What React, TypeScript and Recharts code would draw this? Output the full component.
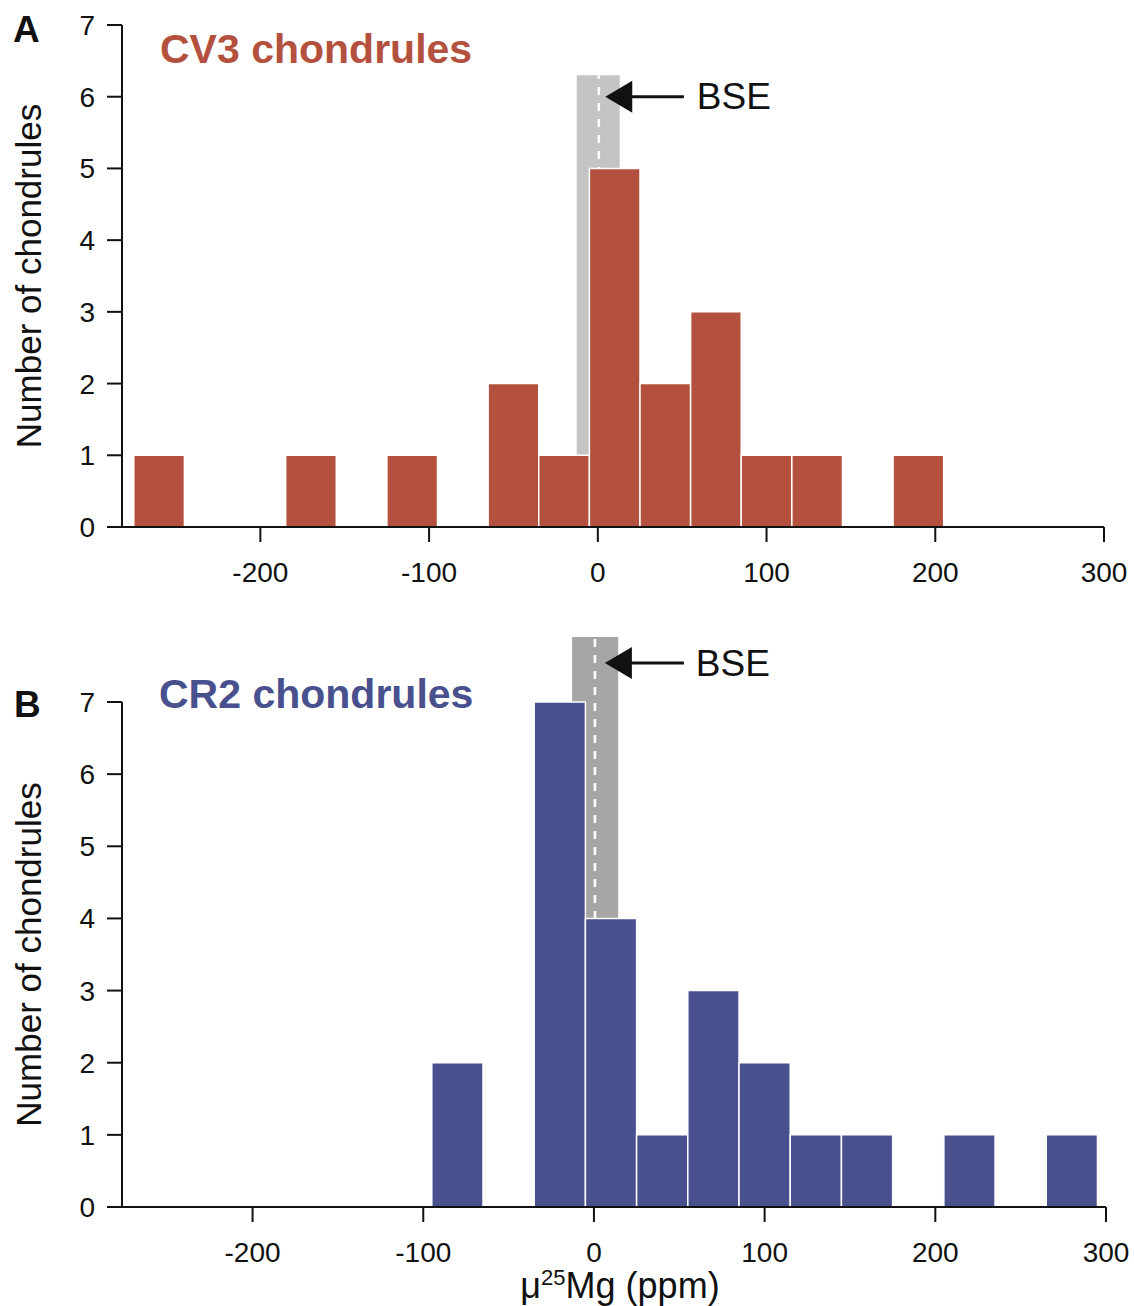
import React from "react";
import {
  ComposedChart,
  XAxis,
  YAxis,
  Scatter,
  ReferenceArea,
  ReferenceLine,
  ReferenceDot,
} from "recharts";

const FONT = '"Liberation Sans", Arial, Helvetica, sans-serif';

const xTicks = [-200, -100, 0, 100, 200, 300];
const yTicks = [0, 1, 2, 3, 4, 5, 6, 7];
const binWidth = 30;

// CV3 chondrules histogram (bin centres, counts)
const cv3Centers = [-260, -170, -110, -50, -20, 10, 40, 70, 100, 130, 190];
const cv3Counts = [1, 1, 1, 2, 1, 5, 2, 3, 1, 1, 1];

// CR2 chondrules histogram
const cr2Centers = [-80, -20, 10, 40, 70, 100, 130, 160, 220, 280];
const cr2Counts = [2, 7, 4, 1, 3, 2, 1, 1, 1, 1];

// BSE band: [low, high], band top, arrow level, arrow tip/tail, label x
const cv3Bse = [-12.5, 13];
const cv3BseTop = 6.3;
const cv3Arrow = { y: 6, tip: 4.4, tail: 51, text: 58.7 };
const cr2Bse = [-12.8, 14.2];
const cr2BseTop = 7.9;
const cr2Arrow = { y: 7.54, tip: 6.4, tail: 52.7, text: 59.7 };

const arrowHead = (p: any) => (
  <polygon
    points={`${p.cx},${p.cy} ${p.cx + 27},${p.cy - 16} ${p.cx + 27},${p.cy + 16}`}
    fill="#111"
  />
);

const bseText = (p: any) => (
  <text
    x={p.cx}
    y={p.cy}
    dominantBaseline="central"
    fontSize={37}
    fontFamily={FONT}
    fill="#111"
  >
    BSE
  </text>
);

const yLabel = (props: any) => {
  const vb = props.viewBox;
  const cx = vb.x + 28;
  const cy = vb.y + vb.height / 2;
  return (
    <text
      x={cx}
      y={cy}
      transform={`rotate(-90 ${cx} ${cy})`}
      textAnchor="middle"
      dominantBaseline="central"
      fontSize={35}
      fontFamily={FONT}
      fill="#111"
    >
      Number of chondrules
    </text>
  );
};

const xLabel = (props: any) => {
  const vb = props.viewBox;
  return (
    <text
      x={vb.x + vb.width / 2 + 6}
      y={vb.y + 91}
      textAnchor="middle"
      fontSize={36}
      fontFamily={FONT}
      fill="#111"
    >
      μ
      <tspan dy={-13} fontSize={22}>25</tspan>
      <tspan dy={13}>Mg (ppm)</tspan>
    </text>
  );
};

interface PanelProps {
  centers: number[];
  counts: number[];
  color: string;
  bandColor: string;
  band: number[];
  bandTop: number;
  arrow: { y: number; tip: number; tail: number; text: number };
  domain: [number, number];
  height: number;
  margin: { top: number; right: number; bottom: number; left: number };
  xAxisHeight: number;
  showXLabel: boolean;
}

function Panel(p: PanelProps) {
  const data = p.centers.map((c, i) => ({ x: c, count: p.counts[i] }));
  const axisStyle = { stroke: "#111", strokeWidth: 2 };
  const tickStyle = { fill: "#111", fontSize: 28, fontFamily: FONT };
  return (
    <ComposedChart width={1134} height={p.height} data={data} margin={p.margin}>
      <XAxis
        type="number"
        dataKey="x"
        domain={p.domain}
        allowDataOverflow
        ticks={xTicks}
        interval={0}
        tickSize={15}
        tickMargin={20}
        height={p.xAxisHeight}
        axisLine={axisStyle}
        tickLine={axisStyle}
        tick={tickStyle}
        label={p.showXLabel ? xLabel : undefined}
      />
      <YAxis
        type="number"
        dataKey="count"
        domain={[0, 7]}
        allowDataOverflow
        ticks={yTicks}
        interval={0}
        tickSize={15}
        tickMargin={12}
        width={122}
        axisLine={axisStyle}
        tickLine={axisStyle}
        tick={tickStyle}
        label={yLabel}
      />
      <ReferenceArea
        x1={p.band[0]}
        x2={p.band[1]}
        y1={0}
        y2={p.bandTop}
        fill={p.bandColor}
        fillOpacity={1}
        stroke="none"
        ifOverflow="visible"
        zIndex={90}
      />
      <ReferenceLine
        segment={[
          { x: 0.6, y: 0 },
          { x: 0.6, y: p.bandTop },
        ]}
        stroke="#fff"
        strokeWidth={2.5}
        strokeDasharray="8 8"
        ifOverflow="visible"
        zIndex={95}
      />
      {data.map((d, i) => (
        <ReferenceArea
          key={i}
          x1={d.x - binWidth / 2}
          x2={d.x + binWidth / 2}
          y1={0}
          y2={d.count}
          fill={p.color}
          fillOpacity={1}
          stroke="#fff"
          strokeWidth={1.5}
          ifOverflow="visible"
          zIndex={100}
        />
      ))}
      <ReferenceLine
        segment={[
          { x: p.arrow.tip + 14, y: p.arrow.y },
          { x: p.arrow.tail, y: p.arrow.y },
        ]}
        stroke="#111"
        strokeWidth={3}
        ifOverflow="visible"
        zIndex={600}
      />
      <ReferenceDot
        x={p.arrow.tip}
        y={p.arrow.y}
        r={1}
        shape={arrowHead}
        ifOverflow="visible"
        zIndex={600}
      />
      <ReferenceDot
        x={p.arrow.text}
        y={p.arrow.y}
        r={1}
        shape={bseText}
        ifOverflow="visible"
        zIndex={600}
      />
      <Scatter dataKey="count" shape={() => <g />} isAnimationActive={false} legendType="none" />
    </ComposedChart>
  );
}

export default function App() {
  return (
    <div style={{ position: "absolute", left: 0, top: 0, width: 1134, height: 1306, background: "#fff" }}>
      <div style={{ position: "absolute", left: 0, top: 0 }}>
        <Panel
          centers={cv3Centers}
          counts={cv3Counts}
          color="#b4513e"
          bandColor="#c4c4c4"
          band={cv3Bse}
          bandTop={cv3BseTop}
          arrow={cv3Arrow}
          domain={[-282, 300]}
          height={600}
          margin={{ top: 25, right: 30, bottom: 0, left: 0 }}
          xAxisHeight={73}
          showXLabel={false}
        />
      </div>
      <div style={{ position: "absolute", left: 0, top: 600 }}>
        <Panel
          centers={cr2Centers}
          counts={cr2Counts}
          color="#48508e"
          bandColor="#a6a6a6"
          band={cr2Bse}
          bandTop={cr2BseTop}
          arrow={cr2Arrow}
          domain={[-276.5, 300]}
          height={706}
          margin={{ top: 102, right: 28, bottom: 0, left: 0 }}
          xAxisHeight={99}
          showXLabel={true}
        />
      </div>
      <svg
        width={1134}
        height={1306}
        style={{ position: "absolute", left: 0, top: 0, pointerEvents: "none" }}
      >
        <text x={13} y={42} fontSize={37} fontWeight="bold" fontFamily={FONT} fill="#111">A</text>
        <text x={160} y={63} fontSize={41} fontWeight="bold" fontFamily={FONT} fill="#b4513e">
          CV3 chondrules
        </text>
        <text x={14} y={717} fontSize={37} fontWeight="bold" fontFamily={FONT} fill="#111">B</text>
        <text x={159} y={708} fontSize={41} fontWeight="bold" fontFamily={FONT} fill="#48508e">
          CR2 chondrules
        </text>
      </svg>
    </div>
  );
}
